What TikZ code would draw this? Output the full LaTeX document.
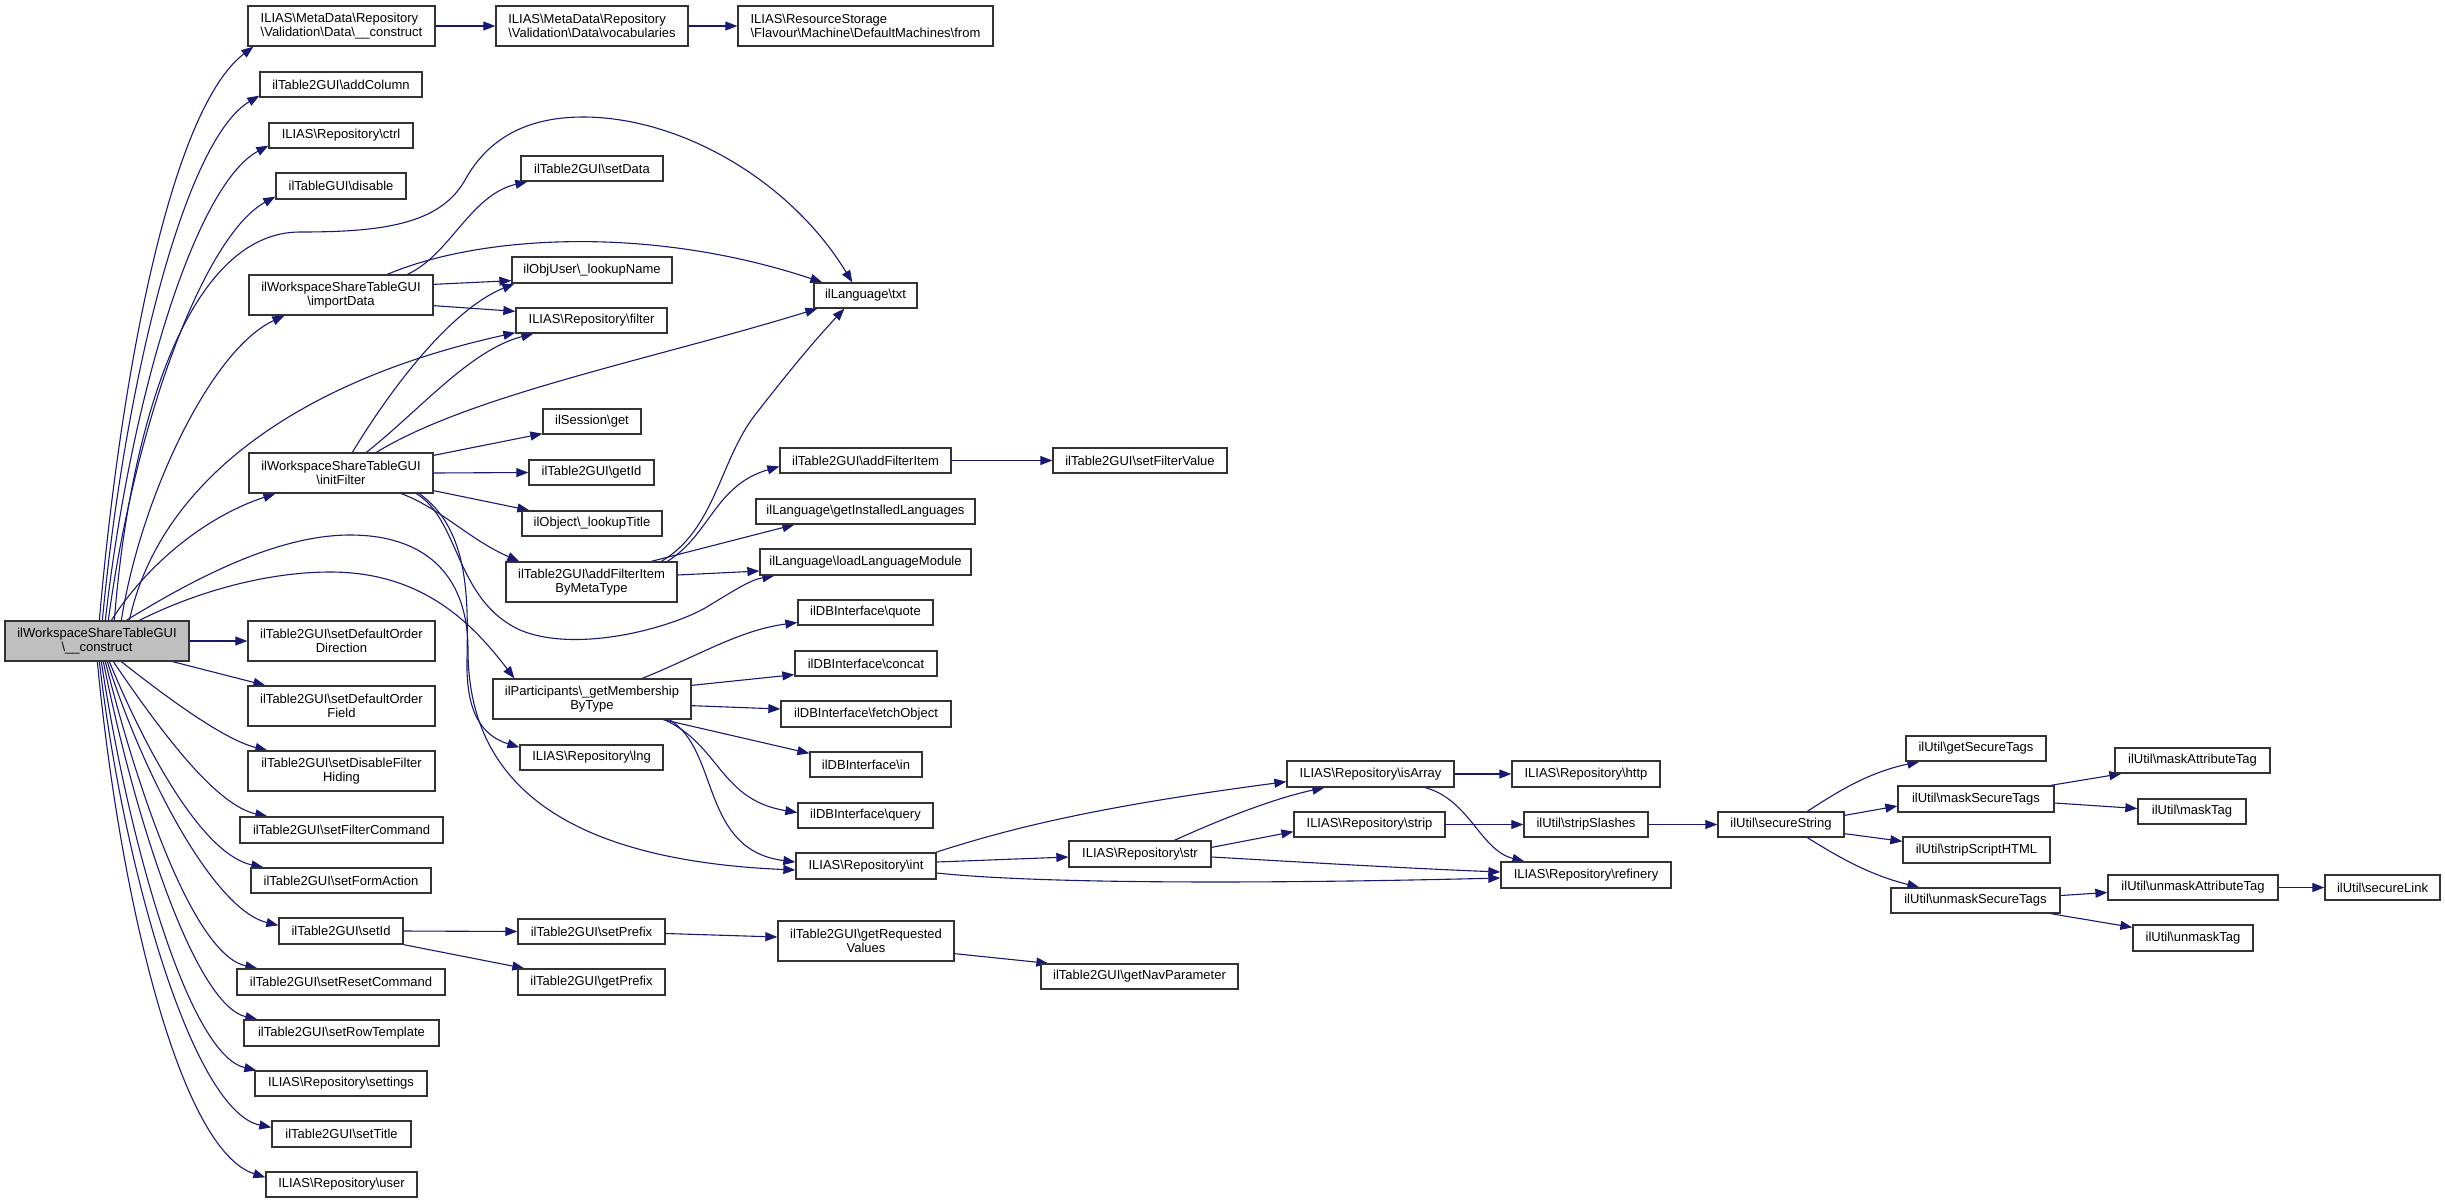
\documentclass[tikz,border=0pt]{standalone}
\usepackage{fontspec}
\setmainfont{Liberation Sans}
\usetikzlibrary{arrows.meta,calc}
\definecolor{edgec}{HTML}{191970}
\definecolor{bord}{HTML}{333333}
\definecolor{mainfill}{HTML}{BFBFBF}
\newcommand\bsl{\textbackslash}
\newcommand\mkbox[7][]{%
  \pgfmathsetmacro\bxcx{(#3+#5)/2}%
  \pgfmathsetmacro\bxcy{(#4+#6)/2}%
  \pgfmathsetmacro\bxw{#5-#3}%
  \pgfmathsetmacro\bxh{#6-#4}%
  \node[box,#1,minimum width=\bxw pt,minimum height=\bxh pt] (#2) at (\bxcx,\bxcy) {#7};}
\pgfdeclarelayer{bg}
\pgfsetlayers{bg,main}
\tikzset{
  box/.style={draw=bord,line width=1.3pt,fill=white,inner sep=1pt,align=center,
    font=\fontsize{13}{14.5}\selectfont},
  e/.style={draw=edgec,line width=1.1pt,-{Triangle[length=12pt,width=9pt]}}
}
\begin{document}
\begin{tikzpicture}[x=1pt,y=-1pt]
\useasboundingbox (0,0) rectangle (2445,1203);
% column 0
\mkbox[fill=mainfill]{M}{5}{621}{189}{661}{ilWorkspaceShareTableGUI\\\bsl\_\_construct}
% column 1
\mkbox[align=left]{dc}{248}{6}{435}{46}{ILIAS\bsl MetaData\bsl Repository\\\bsl Validation\bsl Data\bsl\_\_construct}
\mkbox{addCol}{260}{72}{422}{97}{ilTable2GUI\bsl addColumn}
\mkbox{ctrl}{269}{123}{413}{148}{ILIAS\bsl Repository\bsl ctrl}
\mkbox{disable}{276}{173}{406}{199}{ilTableGUI\bsl disable}
\mkbox{impD}{249}{275}{433}{315}{ilWorkspaceShareTableGUI\\\bsl importData}
\mkbox{initF}{249}{453}{433}{493}{ilWorkspaceShareTableGUI\\\bsl initFilter}
\mkbox{sdod}{248}{621}{435}{661}{ilTable2GUI\bsl setDefaultOrder\\Direction}
\mkbox{sdof}{248}{686}{435}{726}{ilTable2GUI\bsl setDefaultOrder\\Field}
\mkbox{sdfh}{248}{751}{435}{791}{ilTable2GUI\bsl setDisableFilter\\Hiding}
\mkbox{sfc}{240}{817}{443}{843}{ilTable2GUI\bsl setFilterCommand}
\mkbox{sfa}{251}{868}{431}{893}{ilTable2GUI\bsl setFormAction}
\mkbox{setId}{279}{918}{403}{944}{ilTable2GUI\bsl setId}
\mkbox{src}{237}{969}{445}{995}{ilTable2GUI\bsl setResetCommand}
\mkbox{srt}{244}{1020}{439}{1046}{ilTable2GUI\bsl setRowTemplate}
\mkbox{settings}{255}{1071}{427}{1096}{ILIAS\bsl Repository\bsl settings}
\mkbox{setTitle}{272}{1121}{411}{1147}{ilTable2GUI\bsl setTitle}
\mkbox{user}{266}{1172}{417}{1197}{ILIAS\bsl Repository\bsl user}
% column 2
\mkbox[align=left]{voc}{496}{6}{688}{46}{ILIAS\bsl MetaData\bsl Repository\\\bsl Validation\bsl Data\bsl vocabularies}
\mkbox{setData}{521}{156}{663}{181}{ilTable2GUI\bsl setData}
\mkbox{lookupName}{512}{257}{672}{283}{ilObjUser\bsl\_lookupName}
\mkbox{filter}{516}{308}{667}{333}{ILIAS\bsl Repository\bsl filter}
\mkbox{sget}{543}{409}{641}{434}{ilSession\bsl get}
\mkbox{getId}{529}{460}{654}{485}{ilTable2GUI\bsl getId}
\mkbox{lookupTitle}{522}{511}{662}{536}{ilObject\bsl\_lookupTitle}
\mkbox{afibmt}{506}{562}{677}{602}{ilTable2GUI\bsl addFilterItem\\ByMetaType}
\mkbox{gmbt}{493}{679}{691}{719}{ilParticipants\bsl\_getMembership\\ByType}
\mkbox{lng}{520}{745}{663}{770}{ILIAS\bsl Repository\bsl lng}
\mkbox{setPrefix}{518}{919}{665}{944}{ilTable2GUI\bsl setPrefix}
\mkbox{getPrefix}{518}{969}{665}{995}{ilTable2GUI\bsl getPrefix}
% column 3
\mkbox[align=left]{from}{738}{6}{993}{46}{ILIAS\bsl ResourceStorage\\\bsl Flavour\bsl Machine\bsl DefaultMachines\bsl from}
\mkbox{txt}{814}{283}{917}{308}{ilLanguage\bsl txt}
\mkbox{afi}{780}{448}{951}{473}{ilTable2GUI\bsl addFilterItem}
\mkbox{gil}{756}{499}{975}{524}{ilLanguage\bsl getInstalledLanguages}
\mkbox{llm}{760}{549}{971}{575}{ilLanguage\bsl loadLanguageModule}
\mkbox{quote}{798}{600}{933}{625}{ilDBInterface\bsl quote}
\mkbox{concat}{795}{651}{937}{676}{ilDBInterface\bsl concat}
\mkbox{fetch}{781}{701}{951}{727}{ilDBInterface\bsl fetchObject}
\mkbox{dbin}{810}{752}{922}{777}{ilDBInterface\bsl in}
\mkbox{query}{798}{803}{933}{828}{ilDBInterface\bsl query}
\mkbox{repint}{796}{853}{936}{879}{ILIAS\bsl Repository\bsl int}
\mkbox{grv}{778}{921}{954}{961}{ilTable2GUI\bsl getRequested\\Values}
% column 4
\mkbox{sfv}{1053}{448}{1227}{473}{ilTable2GUI\bsl setFilterValue}
\mkbox{str}{1069}{841}{1211}{867}{ILIAS\bsl Repository\bsl str}
\mkbox{gnp}{1041}{964}{1238}{989}{ilTable2GUI\bsl getNavParameter}
% column 5
\mkbox{isArray}{1287}{761}{1454}{787}{ILIAS\bsl Repository\bsl isArray}
\mkbox{strip}{1294}{812}{1445}{837}{ILIAS\bsl Repository\bsl strip}
% column 6
\mkbox{http}{1512}{761}{1660}{787}{ILIAS\bsl Repository\bsl http}
\mkbox{stripSl}{1524}{812}{1648}{837}{ilUtil\bsl stripSlashes}
\mkbox{refinery}{1501}{862}{1671}{888}{ILIAS\bsl Repository\bsl refinery}
% column 7+
\mkbox{secStr}{1718}{812}{1844}{837}{ilUtil\bsl secureString}
\mkbox{gst}{1906}{736}{2046}{761}{ilUtil\bsl getSecureTags}
\mkbox{mst}{1898}{786}{2054}{812}{ilUtil\bsl maskSecureTags}
\mkbox{ssh}{1903}{837}{2050}{863}{ilUtil\bsl stripScriptHTML}
\mkbox{umst}{1891}{888}{2060}{913}{ilUtil\bsl unmaskSecureTags}
\mkbox{mat}{2115}{748}{2270}{773}{ilUtil\bsl maskAttributeTag}
\mkbox{mtag}{2138}{799}{2246}{824}{ilUtil\bsl maskTag}
\mkbox{umat}{2108}{875}{2278}{900}{ilUtil\bsl unmaskAttributeTag}
\mkbox{umtag}{2133}{925}{2253}{951}{ilUtil\bsl unmaskTag}
\mkbox{seclink}{2325}{875}{2440}{900}{ilUtil\bsl secureLink}

\begin{pgfonlayer}{bg}
% from main node
\draw[e] ($(M.north west)+(95,0)$) .. controls (120,380) and (170,110) .. ($(dc.south west)+(6,0)$);
\draw[e] ($(M.north west)+(98,0)$) .. controls (125,380) and (185,140) .. ($(addCol.south west)+(0,-2)$);
\draw[e] ($(M.north west)+(101,0)$) .. controls (130,400) and (195,185) .. ($(ctrl.south west)+(0,-3)$);
\draw[e] ($(M.north west)+(104,0)$) .. controls (135,420) and (205,235) .. ($(disable.south west)+(0,-3)$);
\draw[e] ($(M.north west)+(110,0)$) .. controls (130,420) and (190,232) .. (300,232)
   .. controls (380,232) and (440,225) .. (465,180)
   .. controls (485,144) and (520,117) .. (583,117)
   .. controls (680,117) and (790,180) .. ($(txt.north west)+(39,0)$);
\draw[e] ($(M.north west)+(117,0)$) .. controls (140,500) and (210,350) .. ($(impD.south west)+(36,0)$);
\draw[e] ($(M.north west)+(125,0)$) .. controls (160,480) and (300,380) .. ($(filter.south west)+(0,-1)$);
\draw[e] ($(M.north west)+(107,0)$) .. controls (150,560) and (210,515) .. ($(initF.south west)+(27,0)$);
\draw[e] ($(M.north west)+(122,0)$) .. controls (200,575) and (280,535) .. (350,535)
   .. controls (420,535) and (468,570) .. (468,650)
   .. controls (468,780) and (560,860) .. ($(repint.west)+(0,4)$);
\draw[e] ($(M.north west)+(135,0)$) .. controls (200,590) and (270,572) .. (330,572)
   .. controls (420,572) and (470,620) .. ($(gmbt.north west)+(22,0)$);
\draw[e] (M.east) -- (sdod.west);
\draw[e] ($(M.south east)+(-17,0)$) -- ($(sdof.north west)+(18,0)$);
\draw[e] ($(M.south west)+(117,0)$) .. controls (170,700) and (225,740) .. ($(sdfh.north west)+(20,0)$);
\draw[e] ($(M.south west)+(109,0)$) .. controls (160,730) and (215,805) .. ($(sfc.north west)+(28,0)$);
\draw[e] ($(M.south west)+(105,0)$) .. controls (150,760) and (205,855) .. ($(sfa.north west)+(13,0)$);
\draw[e] ($(M.south west)+(103,0)$) .. controls (145,780) and (215,910) .. ($(setId.north west)+(0,8)$);
\draw[e] ($(M.south west)+(101,0)$) .. controls (140,800) and (195,955) .. ($(src.north west)+(21,0)$);
\draw[e] ($(M.south west)+(99,0)$) .. controls (135,820) and (195,1005) .. ($(srt.north west)+(14,0)$);
\draw[e] ($(M.south west)+(97,0)$) .. controls (130,850) and (190,1055) .. ($(settings.north west)+(2,0)$);
\draw[e] ($(M.south west)+(95,0)$) .. controls (125,880) and (195,1112) .. ($(setTitle.north west)+(0,7)$);
\draw[e] ($(M.south west)+(93,0)$) .. controls (120,900) and (180,1150) .. ($(user.north west)+(0,6)$);
% importData
\draw[e] ($(impD.north west)+(159,0)$) .. controls (450,255) and (470,195) .. ($(setData.south west)+(7,0)$);
\draw[e] ($(impD.north west)+(139,0)$) .. controls (480,235) and (650,225) .. ($(txt.north west)+(9,0)$);
\draw[e] ($(impD.north east)+(0,10)$) -- ($(lookupName.south west)+(0,-3)$);
\draw[e] ($(impD.south east)+(0,-10)$) -- ($(filter.north west)+(0,4)$);
% initFilter
\draw[e] ($(initF.north west)+(104,0)$) .. controls (390,390) and (450,310) .. ($(lookupName.south west)+(3,0)$);
\draw[e] ($(initF.north west)+(118,0)$) .. controls (420,410) and (470,350) .. ($(filter.south west)+(18,0)$);
\draw[e] ($(initF.north west)+(128,0)$) .. controls (470,395) and (650,360) .. ($(txt.south west)+(4,0)$);
\draw[e] ($(initF.north east)+(0,3)$) -- ($(sget.south west)+(0,-1)$);
\draw[e] (initF.east) -- (getId.west);
\draw[e] ($(initF.south east)+(0,-3)$) -- ($(lookupTitle.north west)+(8,0)$);
\draw[e] ($(initF.south west)+(153,0)$) .. controls (440,508) and (470,540) .. ($(afibmt.north west)+(14,0)$);
\draw[e] ($(initF.south west)+(168,0)$) .. controls (460,520) and (455,600) .. (520,630)
   .. controls (580,655) and (680,625) .. (710,605)
   .. controls (735,590) and (750,580) .. ($(llm.south west)+(15,0)$);
\draw[e] ($(initF.south west)+(171,0)$) .. controls (470,530) and (468,600) .. (467,660)
   .. controls (466,710) and (480,735) .. ($(lng.north west)+(0,3)$);
% addFilterItemByMetaType
\draw[e] ($(afibmt.north west)+(162,0)$) .. controls (710,535) and (715,485) .. ($(afi.west)+(0,6)$);
\draw[e] ($(afibmt.north west)+(146,0)$) -- ($(gil.south west)+(39,0)$);
\draw[e] ($(afibmt.north west)+(156,0)$) .. controls (715,530) and (720,460) .. (755,415)
   .. controls (790,370) and (815,340) .. ($(txt.south west)+(31,0)$);
\draw[e] ($(afibmt.east)+(0,-7)$) -- ($(llm.west)+(0,9)$);
% getMembershipByType
\draw[e] ($(gmbt.north west)+(150,0)$) .. controls (700,655) and (740,630) .. ($(quote.west)+(0,10)$);
\draw[e] ($(gmbt.north east)+(0,7)$) -- ($(concat.south west)+(0,-2)$);
\draw[e] ($(gmbt.south east)+(0,-14)$) -- ($(fetch.west)+(0,-5)$);
\draw[e] ($(gmbt.south west)+(171,0)$) -- ($(dbin.north west)+(0,2)$);
\draw[e] ($(gmbt.south west)+(172,0)$) .. controls (720,745) and (720,800) .. ($(query.west)+(0,-3)$);
\draw[e] ($(gmbt.south west)+(177,0)$) .. controls (720,750) and (700,850) .. ($(repint.west)+(0,-4)$);
% int / str / isArray
\draw[e] ($(repint.north east)+(-1,0)$) .. controls (1020,825) and (1110,805) .. ($(isArray.south west)+(0,-6)$);
\draw[e] ($(repint.east)+(0,-4)$) -- ($(str.west)+(0,3)$);
\draw[e] ($(repint.east)+(0,7)$) .. controls (1050,885) and (1300,883) .. ($(refinery.west)+(0,3)$);
\draw[e] ($(str.north west)+(106,0)$) .. controls (1230,815) and (1280,797) .. ($(isArray.south west)+(38,0)$);
\draw[e] ($(str.north east)+(0,7)$) -- ($(strip.south west)+(0,-6)$);
\draw[e] ($(str.east)+(0,3)$) .. controls (1300,862) and (1400,868) .. ($(refinery.west)+(0,-3)$);
\draw[e] (isArray.east) -- (http.west);
\draw[e] ($(isArray.south west)+(139,0)$) .. controls (1470,800) and (1480,850) .. ($(refinery.north west)+(24,0)$);
\draw[e] (strip.east) -- (stripSl.west);
\draw[e] (stripSl.east) -- (secStr.west);
% secureString family
\draw[e] ($(secStr.north west)+(90,0)$) .. controls (1840,790) and (1870,772) .. ($(gst.south west)+(14,0)$);
\draw[e] ($(secStr.north east)+(0,4)$) -- ($(mst.west)+(0,7)$);
\draw[e] ($(secStr.south east)+(0,-4)$) -- ($(ssh.north west)+(0,5)$);
\draw[e] ($(secStr.south west)+(90,0)$) .. controls (1840,858) and (1870,875) .. ($(umst.north west)+(29,0)$);
\draw[e] ($(mst.north east)+(-4,0)$) -- ($(mat.south west)+(7,0)$);
\draw[e] ($(mst.east)+(0,4)$) -- ($(mtag.west)+(0,-3)$);
\draw[e] ($(umst.east)+(0,-5)$) -- ($(umat.west)+(0,5)$);
\draw[e] ($(umst.south east)+(-10,0)$) -- ($(umtag.north west)+(0,3)$);
\draw[e] (umat.east) -- (seclink.west);
% setId family
\draw[e] (setId.east) -- (setPrefix.west);
\draw[e] (setId.south east) -- ($(getPrefix.north west)+(7,0)$);
\draw[e] ($(setPrefix.east)+(0,2)$) -- ($(grv.west)+(0,-4)$);
\draw[e] ($(grv.south east)+(0,-8)$) -- ($(gnp.north west)+(8,0)$);
% others
\draw[e] (afi.east) -- (sfv.west);
\draw[e] (dc.east) -- (voc.west);
\draw[e] (voc.east) -- (from.west);
\end{pgfonlayer}
\end{tikzpicture}
\end{document}
